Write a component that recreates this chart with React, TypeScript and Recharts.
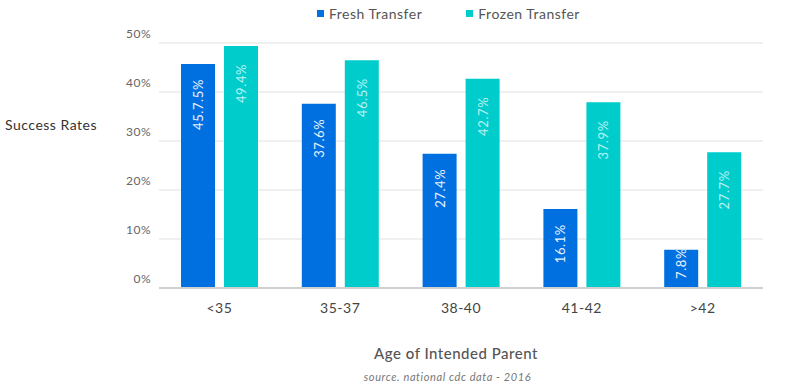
import React from "react";
import {
  BarChart,
  Bar,
  XAxis,
  YAxis,
  CartesianGrid,
  LabelList,
} from "recharts";

const ageGroups = ["<35", "35-37", "38-40", "41-42", ">42"];
const freshRates = [45.7, 37.6, 27.4, 16.1, 7.8];
const frozenRates = [49.4, 46.5, 42.7, 37.9, 27.7];
const freshLabels = ["45.7.5%", "37.6%", "27.4%", "16.1%", "7.8%"];
const frozenLabels = ["49.4%", "46.5%", "42.7%", "37.9%", "27.7%"];
const yTicks = [0, 10, 20, 30, 40, 50];

const FRESH = "#0070e0";
const FROZEN = "#00cccc";
const FONT = "Lato, 'Open Sans', sans-serif";

const data = ageGroups.map((age, i) => ({
  age,
  fresh: freshRates[i],
  frozen: frozenRates[i],
  freshLabel: freshLabels[i],
  frozenLabel: frozenLabels[i],
}));

function YTick({ x, y, payload }: any) {
  return (
    <text
      x={x}
      y={y - 5}
      textAnchor="end"
      fontSize={12}
      fill="#666"
      fontFamily={FONT}
      letterSpacing={0.5}
    >
      {payload.value}%
    </text>
  );
}

function XTick({ x, y, payload }: any) {
  return (
    <text
      x={x}
      y={y + 17}
      textAnchor="middle"
      fontSize={14}
      fill="#444"
      fontFamily={FONT}
      letterSpacing={0.5}
    >
      {payload.value}
    </text>
  );
}

// rotated label reading bottom-to-top, its end sitting near the bar top
function makeBarLabel(color: string, inset: number) {
  return function BarLabel(props: any) {
    const { x, y, width, height, value } = props;
    const cx = x + width / 2;
    const bottom = y + height;
    const yEnd = Math.min(y + inset, bottom - 40);
    return (
      <text
        x={cx}
        y={yEnd}
        transform={`rotate(-90, ${cx}, ${yEnd})`}
        textAnchor="end"
        dominantBaseline="central"
        fontSize={13}
        fill={color}
        fontFamily={FONT}
        letterSpacing={0.6}
      >
        {value}
      </text>
    );
  };
}

function LegendItem({ color, label }: { color: string; label: string }) {
  return (
    <span style={{ display: "inline-flex", alignItems: "center", marginRight: 44 }}>
      <span
        style={{
          width: 7,
          height: 7,
          background: color,
          display: "inline-block",
          marginRight: 5,
        }}
      />
      <span>{label}</span>
    </span>
  );
}

export default function App() {
  return (
    <div
      style={{
        position: "absolute",
        left: 0,
        top: 0,
        width: 801,
        height: 387,
        background: "#fff",
        fontFamily: FONT,
        color: "#555",
      }}
    >
      <div
        style={{
          position: "absolute",
          left: 317,
          top: 3,
          fontSize: 14,
          letterSpacing: 0.5,
          whiteSpace: "nowrap",
        }}
      >
        <LegendItem color={FRESH} label="Fresh Transfer" />
        <LegendItem color={FROZEN} label="Frozen Transfer" />
      </div>
      <div
        style={{
          position: "absolute",
          left: 5,
          top: 116,
          fontSize: 14,
          letterSpacing: 0.5,
          color: "#333",
        }}
      >
        Success Rates
      </div>
      <BarChart
        width={801}
        height={387}
        data={data}
        margin={{ top: 43, right: 38, bottom: 0, left: 0 }}
        barSize={34}
        barGap={9}
      >
        <CartesianGrid vertical={false} stroke="#ebebeb" strokeWidth={1.5} />
        <XAxis
          dataKey="age"
          axisLine={{ stroke: "#cfcfcf", strokeWidth: 2 }}
          tickLine={false}
          tick={<XTick />}
          height={99}
          interval={0}
        />
        <YAxis
          domain={[0, 50]}
          ticks={yTicks}
          axisLine={false}
          tickLine={false}
          tick={<YTick />}
          width={159}
        />
        <Bar dataKey="fresh" fill={FRESH} isAnimationActive={false}>
          <LabelList dataKey="freshLabel" content={makeBarLabel("#e8f2ff", 15)} />
        </Bar>
        <Bar dataKey="frozen" fill={FROZEN} isAnimationActive={false}>
          <LabelList dataKey="frozenLabel" content={makeBarLabel("#b8f2f2", 18)} />
        </Bar>
      </BarChart>
      <div
        style={{
          position: "absolute",
          left: 0,
          width: 912,
          top: 344,
          textAlign: "center",
          fontSize: 15,
          letterSpacing: 0.5,
          fontWeight: 500,
          color: "#555",
        }}
      >
        Age of Intended Parent
      </div>
      <div
        style={{
          position: "absolute",
          left: 0,
          width: 895,
          top: 370,
          textAlign: "center",
          fontSize: 11,
          fontStyle: "italic",
          color: "#777",
          letterSpacing: 0.6,
        }}
      >
        source. national cdc data - 2016
      </div>
    </div>
  );
}
